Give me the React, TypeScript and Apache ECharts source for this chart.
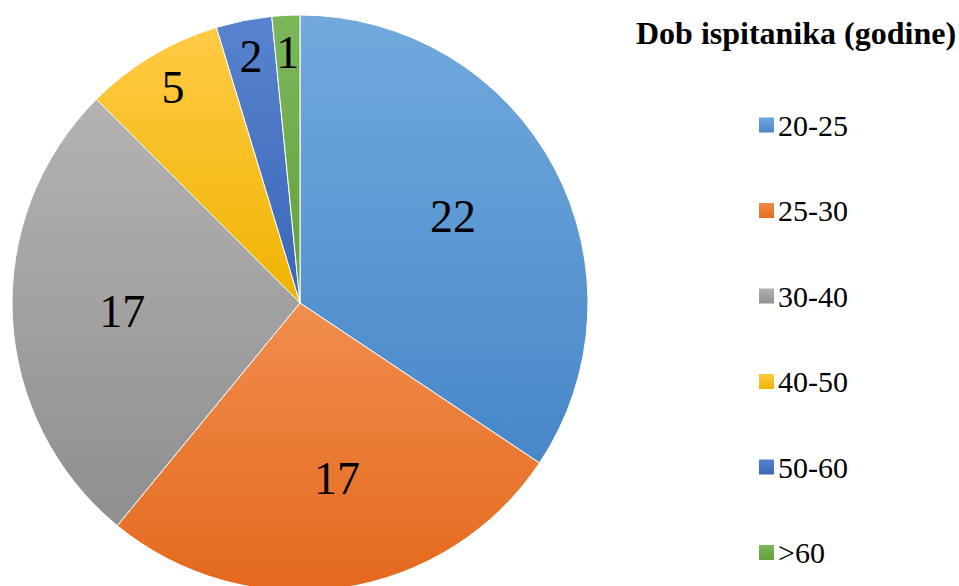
import React, { useEffect, useRef } from "react";
import * as echarts from "echarts";

const categories = ["20-25", "25-30", "30-40", "40-50", "50-60", ">60"];
const values = [22, 17, 17, 5, 2, 1];
const topColors = ["#71A9DE", "#F18D4E", "#B3B3B3", "#FFCB45", "#5783CF", "#7DB75C"];
const bottomColors = ["#4787C8", "#E4691C", "#8F8F8F", "#F0B300", "#3A66B8", "#63A03A"];
const titleText = "Dob ispitanika (godine)";
// label ring: big slices labelled nearer the centre, small ones nearer the rim
const innerLabelSet = [true, true, true, false, false, false];
// small label nudges (px) to mimic the original placement
const labelNudge = [[-4, -3], [11, -1], [0, 0], [2, 0], [0, 0], [0, 0]];

const FONT = "Liberation Serif";

export default function App() {
  const ref = useRef<HTMLDivElement>(null);
  useEffect(() => {
    if (!ref.current) return;
    const chart = echarts.init(ref.current, null, { renderer: "svg" });
    const grad = (i: number) =>
      new echarts.graphic.LinearGradient(0, 0, 0, 1, [
        { offset: 0, color: topColors[i] },
        { offset: 1, color: bottomColors[i] },
      ]);
    const mainData = categories.map((c, i) => ({
      name: c,
      value: values[i],
      itemStyle: { color: grad(i) },
    }));
    const labelData = (inner: boolean) =>
      categories.map((c, i) => ({
        name: c,
        value: values[i],
        label: { show: innerLabelSet[i] === inner, offset: labelNudge[i] },
      }));
    const labelSeries = (inner: boolean) => ({
      type: "pie",
      center: [300, 303],
      radius: inner ? [62, 288] : [208, 288],
      startAngle: 90,
      clockwise: true,
      silent: true,
      legendHoverLink: false,
      itemStyle: { color: "rgba(0,0,0,0)", borderWidth: 0 },
      label: {
        position: "inside",
        formatter: "{c}",
        fontFamily: FONT,
        fontSize: 46,
        color: "#000",
      },
      labelLine: { show: false },
      emphasis: { disabled: true },
      data: labelData(inner),
      z: 5,
    });
    chart.setOption({
      animation: false,
      backgroundColor: "#fff",
      title: {
        text: titleText,
        left: 791,
        top: 12,
        textAlign: "center",
        textStyle: { fontFamily: FONT, fontSize: 32, fontWeight: "bold", color: "#000" },
      },
      legend: {
        orient: "vertical",
        left: 752,
        top: 105,
        data: categories,
        icon: "rect",
        itemWidth: 17,
        itemHeight: 17,
        itemGap: 55.5,
        textStyle: { fontFamily: FONT, fontSize: 30, color: "#000", lineHeight: 30, padding: [0, 0, 0, -2] },
        selectedMode: false,
      },
      series: [
        {
          type: "pie",
          name: "main",
          center: [300, 303],
          radius: [0, 288],
          startAngle: 90,
          clockwise: true,
          label: { show: false },
          labelLine: { show: false },
          itemStyle: { borderColor: "#ffffff", borderWidth: 1 },
          emphasis: { disabled: true },
          data: mainData,
        },
        labelSeries(true),
        labelSeries(false),
      ],
    });
    return () => chart.dispose();
  }, []);
  return (
    <div
      ref={ref}
      style={{ position: "fixed", left: 0, top: 0, width: 959, height: 586 }}
    />
  );
}
